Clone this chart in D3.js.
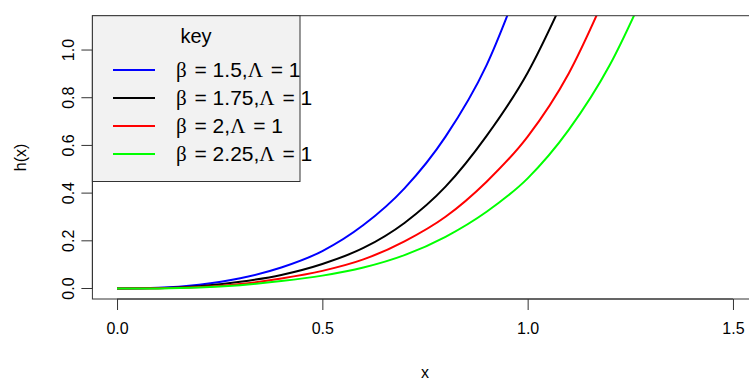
<!DOCTYPE html>
<html>
<head>
<meta charset="utf-8">
<script src="https://cdn.jsdelivr.net/npm/d3@7"></script>
<style>
  body { margin: 0; background: #fff; }
  svg text { font-family: "Liberation Sans", Arial, sans-serif; fill: #000; }
</style>
</head>
<body>
<div id="chart"></div>
<script>
// values
const xValues = [0, 0.1, 0.2, 0.3, 0.4, 0.5, 0.6, 0.7, 0.8, 0.9, 1.0, 1.1, 1.2, 1.3];
const hBeta150 = [0, 0.003, 0.016, 0.043, 0.088, 0.157, 0.266, 0.42, 0.637, 0.937, 1.37, null, null, null];
const hBeta175 = [0, 0.001, 0.009, 0.028, 0.057, 0.103, 0.17, 0.275, 0.427, 0.64, 0.905, 1.26, null, null];
const hBeta200 = [0, 0.001, 0.006, 0.019, 0.042, 0.074, 0.122, 0.198, 0.301, 0.448, 0.637, 0.902, 1.27, null];
const hBeta225 = [0, 0.0005, 0.004, 0.014, 0.031, 0.054, 0.088, 0.14, 0.217, 0.322, 0.462, 0.665, 0.937, 1.30];

const betas = ["1.5", "1.75", "2", "2.25"];
const colors = ["#0000ff", "#000000", "#ff0000", "#00ff00"];
const xTicks = [0, 0.5, 1.0, 1.5];
const yTicks = [0, 0.2, 0.4, 0.6, 0.8, 1.0];

const series = [hBeta150, hBeta175, hBeta200, hBeta225].map((vals, i) => ({
  beta: betas[i],
  color: colors[i],
  points: xValues.map((x, j) => ({ x: x, y: vals[j] }))
}));

const width = 749, height = 381;

// R style: limits widened by 4% on each side
const xlim = [0, 1.5], ylim = [0, 1.1];
const xPad = (xlim[1] - xlim[0]) * 0.04, yPad = (ylim[1] - ylim[0]) * 0.04;

const xScale = d3.scaleLinear()
  .domain([xlim[0] - xPad, xlim[1] + xPad])
  .range([92.4, 757.6]);
const yScale = d3.scaleLinear()
  .domain([ylim[0] - yPad, ylim[1] + yPad])
  .range([299, 15.7]);

const svg = d3.select("#chart").append("svg")
  .attr("width", width)
  .attr("height", height);

svg.append("defs").append("clipPath").attr("id", "plotClip")
  .append("rect")
  .attr("x", xScale.range()[0])
  .attr("y", yScale.range()[1])
  .attr("width", xScale.range()[1] - xScale.range()[0])
  .attr("height", yScale.range()[0] - yScale.range()[1]);

// x axis
const xAxis = svg.append("g")
  .attr("transform", `translate(0,${yScale.range()[0]})`)
  .call(d3.axisBottom(xScale).tickValues(xTicks).tickFormat(d3.format(".1f")).tickSize(11).tickSizeOuter(0));
xAxis.select(".domain").attr("d", `M${xScale(xTicks[0])},0H${xScale(xTicks[xTicks.length - 1])}`);
xAxis.selectAll("text").attr("font-size", 16).attr("font-family", "Liberation Sans, Arial, sans-serif").attr("dy", "1.3em").attr("fill", "#222");
xAxis.selectAll("line, path").attr("stroke", "#333");

// y axis
const yAxis = svg.append("g")
  .attr("transform", `translate(${xScale.range()[0]},0)`)
  .call(d3.axisLeft(yScale).tickValues(yTicks).tickFormat(d3.format(".1f")).tickSize(11).tickSizeOuter(0));
yAxis.select(".domain").attr("d", `M0,${yScale(yTicks[0])}V${yScale(yTicks[yTicks.length - 1])}`);
yAxis.selectAll("line, path").attr("stroke", "#333");
yAxis.selectAll("text")
  .attr("font-size", 16)
  .attr("font-family", "Liberation Sans, Arial, sans-serif")
  .attr("fill", "#222")
  .attr("x", null).attr("dy", null)
  .attr("text-anchor", "middle")
  .attr("transform", d => `translate(-24,${yScale(d)}) rotate(-90) translate(0,6)`)
  .attr("y", 0);
yAxis.selectAll(".tick").attr("transform", null);
yAxis.selectAll(".tick line").attr("transform", d => `translate(0,${yScale(d)})`);

// axis titles
svg.append("text")
  .attr("x", (xScale.range()[0] + xScale.range()[1]) / 2)
  .attr("y", 378)
  .attr("text-anchor", "middle")
  .attr("font-size", 16)
  .attr("fill", "#222")
  .text("x");

svg.append("text")
  .attr("transform", `translate(26,${(yScale.range()[0] + yScale.range()[1]) / 2}) rotate(-90)`)
  .attr("text-anchor", "middle")
  .attr("font-size", 16)
  .attr("fill", "#222")
  .text("h(x)");

// curves
const line = d3.line()
  .defined(d => d.y !== null)
  .x(d => xScale(d.x))
  .y(d => yScale(d.y))
  .curve(d3.curveMonotoneX);

svg.append("g")
  .attr("clip-path", "url(#plotClip)")
  .selectAll("path")
  .data(series)
  .enter()
  .append("path")
  .attr("fill", "none")
  .attr("stroke", d => d.color)
  .attr("stroke-width", 2)
  .attr("d", d => line(d.points));

// plot box
svg.append("rect")
  .attr("x", xScale.range()[0])
  .attr("y", yScale.range()[1])
  .attr("width", xScale.range()[1] - xScale.range()[0])
  .attr("height", yScale.range()[0] - yScale.range()[1])
  .attr("fill", "none")
  .attr("stroke", "#333")
  .attr("stroke-width", 1);

// legend
const legend = svg.append("g");
legend.append("rect")
  .attr("x", xScale.range()[0])
  .attr("y", yScale.range()[1])
  .attr("width", 300 - xScale.range()[0])
  .attr("height", 181.5 - yScale.range()[1])
  .attr("fill", "#f2f2f2")
  .attr("stroke", "#333")
  .attr("stroke-width", 1);

legend.append("text")
  .attr("x", 196)
  .attr("y", 43)
  .attr("text-anchor", "middle")
  .attr("font-size", 20)
  .text("key");

const legendItem = legend.selectAll(".legend-item")
  .data(series)
  .enter()
  .append("g")
  .attr("class", "legend-item")
  .attr("transform", (d, i) => `translate(0,${70 + i * 28})`);

legendItem.append("line")
  .attr("x1", 113).attr("x2", 155)
  .attr("stroke", d => d.color)
  .attr("stroke-width", 2);

const label = legendItem.append("text")
  .attr("x", 176)
  .attr("y", 7)
  .attr("font-size", 21);
label.append("tspan").attr("font-family", "Liberation Serif, serif").text("β");
label.append("tspan").attr("dx", 2).text(d => ` = ${d.beta},`);
label.append("tspan").attr("font-family", "Liberation Serif, serif").text("Λ");
label.append("tspan").attr("dx", 2).text(" = 1");
</script>
</body>
</html>
